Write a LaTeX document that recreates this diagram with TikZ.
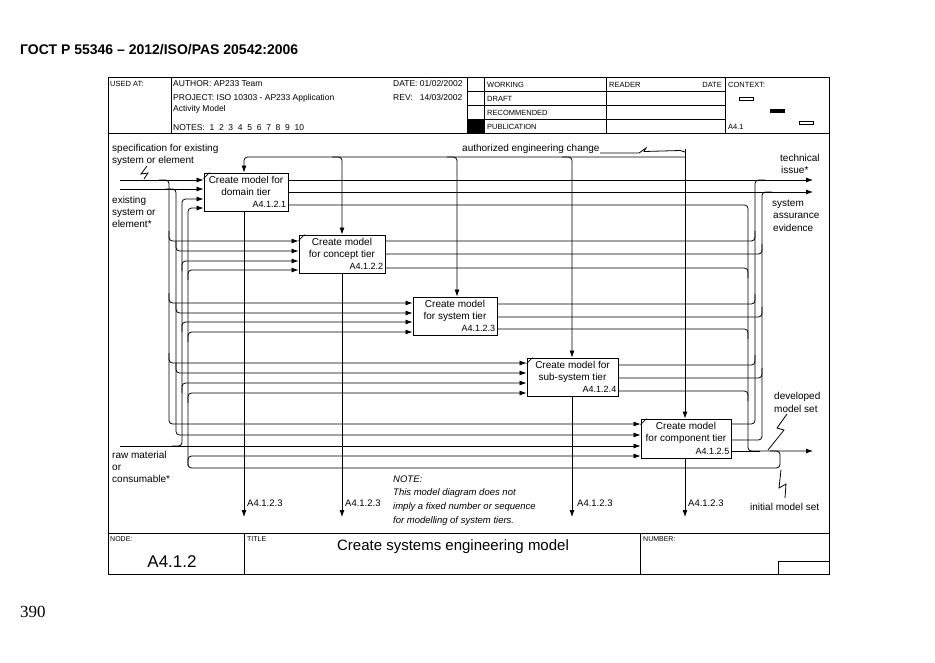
\documentclass[tikz,border=0pt]{standalone}
\usepackage{fontspec}
\setmainfont{Liberation Sans}
\newfontfamily\pagenumfont{Liberation Serif}
\usetikzlibrary{arrows.meta}
\begin{document}
\begin{tikzpicture}[x=1pt,y=-1pt,
  ln/.style={line width=0.8pt, rounded corners=3.5pt},
  arr/.style={ln, -{Latex[length=7pt,width=5pt]}},
  frm/.style={line width=0.9pt},
  box/.style={draw, line width=0.9pt, minimum height=38pt, inner sep=0pt},
  btxt/.style={font=\fontsize{10}{12}\selectfont, inner sep=0pt, anchor=base},
  bid/.style={font=\fontsize{9}{10}\selectfont, inner sep=0pt, anchor=base east},
  lbl/.style={font=\fontsize{10}{12}\selectfont, inner sep=0pt, anchor=base west},
  note/.style={font=\itshape\fontsize{9.5}{11}\selectfont, inner sep=0pt, anchor=base west},
  hdr/.style={font=\fontsize{8.5}{10}\selectfont, inner sep=0pt, anchor=base west},
  hsm/.style={font=\fontsize{7.5}{9}\selectfont, inner sep=0pt, anchor=base west},
  tiny/.style={font=\fontsize{7}{8}\selectfont, inner sep=0pt, anchor=base west},
  sq/.style={line width=0.8pt},
]
\useasboundingbox (0,0) rectangle (935,662);

% page heading and page number
\node[anchor=base west, inner sep=0pt, font=\bfseries\fontsize{14}{16}\selectfont] (head) at (20,54) {ГОСТ Р 55346 – 2012/ISO/PAS 20542:2006};
\node[anchor=base west, inner sep=0pt, font=\pagenumfont\fontsize{17}{19}\selectfont] (pnum) at (20,617) {390};

% outer frame
\draw[frm] (108,77) rectangle (829,574);
\draw[frm] (108,133) -- (829,133);
\draw[frm] (108,533) -- (829,533);
% header
\foreach \x in {171,467,484,606,725} \draw[frm] (\x,77) -- (\x,133);
\foreach \y in {91,105,119} \draw[frm] (467,\y) -- (725,\y);
\fill (467,119) rectangle (484,133);
\node[hsm] (usedat) at (110,86.5) {USED AT:};
\node[hdr] (author) at (173,86.5) {AUTHOR: AP233 Team};
\node[hdr] (project) at (173,100.5) {PROJECT: ISO 10303 - AP233 Application};
\node[hdr] (actmod) at (173,111.5) {Activity Model};
\node[hdr] (notes) at (173,130) {NOTES:\ \ 1\ \ 2\ \ 3\ \ 4\ \ 5\ \ 6\ \ 7\ \ 8\ \ 9\ \ 10};
\node[hdr] (date) at (393,86.5) {DATE: 01/02/2002};
\node[hdr] (rev) at (393,100.5) {REV:\ \ \ 14/03/2002};
\node[hsm] (working) at (487,87.5) {WORKING};
\node[hsm] (draft) at (487,101.5) {DRAFT};
\node[hsm] (recom) at (487,115.5) {RECOMMENDED};
\node[hsm] (public) at (487,129.5) {PUBLICATION};
\node[hsm] (reader) at (609,87.5) {READER};
\node[hsm, anchor=base east] (rdate) at (722,87.5) {DATE};
\node[hsm] (context) at (728,87.5) {CONTEXT:};
\node[hsm] (ctxnode) at (728,129.5) {A4.1};
\draw[line width=0.7pt] (739,97.5) rectangle (753,100.5);
\fill (770,109) rectangle (785,113);
\draw[line width=0.7pt] (799,121) rectangle (813,124);

% footer
\draw[frm] (244,533) -- (244,574);
\draw[frm] (640,533) -- (640,574);
\draw[frm] (778,561) rectangle (829,574);
\node[tiny] (nodelbl) at (110,541.5) {NODE:};
\node[anchor=base, inner sep=0pt, font=\fontsize{17}{19}\selectfont] (nodeid) at (172,567) {A4.1.2};
\node[tiny] (titlelbl) at (247,541.5) {TITLE};
\node[anchor=base, inner sep=0pt, font=\fontsize{15}{17}\selectfont] (title) at (453,550.5) {Create systems engineering model};
\node[tiny] (numlbl) at (643,541.5) {NUMBER:};

% activity boxes
\node[box, minimum width=84pt] (B1) at (246,192) {};
\node[box, minimum width=86pt] (B2) at (342,254) {};
\node[box, minimum width=84pt] (B3) at (455,316) {};
\node[box, minimum width=91pt] (B4) at (572.5,377) {};
\node[box, minimum width=90pt, minimum height=39pt] (B5) at (686,438.5) {};
\foreach \b in {B1,B2,B4,B5} \draw[line width=0.6pt] ([yshift=-6pt]\b.north west) -- ([xshift=6pt]\b.north west);

\node[btxt] (B1a) at ([yshift=-10.5pt]B1.north) {Create model for};
\node[btxt] (B1b) at ([yshift=-22.5pt]B1.north) {domain tier};
\node[bid] (B1c) at ([xshift=-2pt,yshift=-35pt]B1.north east) {A4.1.2.1};
\node[btxt] (B2a) at ([yshift=-10.5pt]B2.north) {Create model};
\node[btxt] (B2b) at ([yshift=-22.5pt]B2.north) {for concept tier};
\node[bid] (B2c) at ([xshift=-2pt,yshift=-35pt]B2.north east) {A4.1.2.2};
\node[btxt] (B3a) at ([yshift=-10.5pt]B3.north) {Create model};
\node[btxt] (B3b) at ([yshift=-22.5pt]B3.north) {for system tier};
\node[bid] (B3c) at ([xshift=-2pt,yshift=-35pt]B3.north east) {A4.1.2.3};
\node[btxt] (B4a) at ([yshift=-10.5pt]B4.north) {Create model for};
\node[btxt] (B4b) at ([yshift=-22.5pt]B4.north) {sub-system tier};
\node[bid] (B4c) at ([xshift=-2pt,yshift=-35pt]B4.north east) {A4.1.2.4};
\node[btxt] (B5a) at ([yshift=-10.5pt]B5.north) {Create model};
\node[btxt] (B5b) at ([yshift=-22.5pt]B5.north) {for component tier};
\node[bid] (B5c) at ([xshift=-2pt,yshift=-35.5pt]B5.north east) {A4.1.2.5};

% external inputs
\draw[arr] (120,180) -- (B1.west |- 0,180);
\draw[arr] (120,189) -- (B1.west |- 0,189);
\draw[arr] (120,446) -- (B5.west |- 0,446);
% left bus: specification
\draw[arr] (159,180) -- (169,180) -- (169,424) -- (B5.west |- 0,424);
\foreach \b/\y in {B2/241,B3/303,B4/363} \draw[arr] (169,\y-10) -- (169,\y) -- (\b.west |- 0,\y);
% left bus: existing system
\draw[arr] (166,189) -- (176,189) -- (176,435) -- (B5.west |- 0,435);
\foreach \b/\y in {B2/251,B3/313,B4/373} \draw[arr] (176,\y-10) -- (176,\y) -- (\b.west |- 0,\y);
% left bus: raw material
\draw[arr] (172,446) -- (182,446) -- (182,199) -- (B1.west |- 0,199);
\foreach \b/\y in {B2/261,B3/322,B4/383} \draw[arr] (182,\y+10) -- (182,\y) -- (\b.west |- 0,\y);
% feedback bus: model set
\draw[arr] (770,451) -- (780,451) -- (780,468) -- (188,468) -- (188,208) -- (B1.west |- 0,208);
\foreach \b/\y in {B2/270,B3/332,B4/393,B5/456} \draw[arr] (188,\y+10) -- (188,\y) -- (\b.west |- 0,\y);

% outputs
\draw[arr] (B1.east |- 0,180) -- (813,180);
\draw[arr] (B1.east |- 0,192) -- (813,192);
\draw[arr] (B1.east |- 0,205) -- (748,205) -- (748,451) -- (813,451);
\draw[ln] (B5.east |- 0,451) -- (760,451);
\draw[ln] (B5.east |- 0,424) -- (755,424) -- (755,180) -- (765,180);
\draw[ln] (B5.east |- 0,440) -- (762,440) -- (762,192) -- (772,192);
\foreach \b/\y in {B2/241,B3/304,B4/365} \draw[ln] (\b.east |- 0,\y) -- (755,\y) -- (755,\y-10);
\foreach \b/\y in {B2/254,B3/317,B4/378} \draw[ln] (\b.east |- 0,\y) -- (762,\y) -- (762,\y-10);
\foreach \b/\y in {B2/268,B3/329,B4/391} \draw[ln] (\b.east |- 0,\y) -- (748,\y) -- (748,\y+10);

% controls
\draw[arr] (685,157) -- (244,157) -- (244,0 |- B1.north);
\draw[arr] (332,157) -- (342,157) -- (342,0 |- B2.north);
\draw[arr] (447,157) -- (457,157) -- (457,0 |- B3.north);
\draw[arr] (562,157) -- (572,157) -- (572,0 |- B4.north);
\draw[arr] (685,149) -- (685,0 |- B5.north);

% mechanisms / calls
\draw[arr] (244,0 |- B1.south) -- (244,517);
\draw[arr] (342,0 |- B2.south) -- (342,517);
\draw[arr] (572,0 |- B4.south) -- (572,517);
\draw[arr] (685,0 |- B5.south) -- (685,517);
\node[lbl, font=\fontsize{9.5}{11}\selectfont] (m1) at (247,506.5) {A4.1.2.3};
\node[lbl, font=\fontsize{9.5}{11}\selectfont] (m2) at (345,506.5) {A4.1.2.3};
\node[lbl, font=\fontsize{9.5}{11}\selectfont] (m4) at (577,506.5) {A4.1.2.3};
\node[lbl, font=\fontsize{9.5}{11}\selectfont] (m5) at (688,506.5) {A4.1.2.3};

% labels
\node[lbl] (spec1) at (112,151.5) {specification for existing};
\node[lbl] (spec2) at (112,163.5) {system or element};
\node[lbl] (ex1) at (112,203.5) {existing};
\node[lbl] (ex2) at (112,215.5) {system or};
\node[lbl] (ex3) at (112,227.5) {element*};
\node[lbl] (raw1) at (112,458.5) {raw material};
\node[lbl] (raw2) at (112,470.5) {or};
\node[lbl] (raw3) at (112,482.5) {consumable*};
\node[lbl] (tech1) at (780,161.5) {technical};
\node[lbl] (tech2) at (781,173.5) {issue*};
\node[lbl] (sae1) at (772,206.5) {system};
\node[lbl] (sae2) at (773,218.5) {assurance};
\node[lbl] (sae3) at (773,231.5) {evidence};
\node[lbl] (dev1) at (774,399.5) {developed};
\node[lbl] (dev2) at (774,412.5) {model set};
\node[lbl] (init) at (750,510.5) {initial model set};
\node[lbl] (aec) at (462,151.5) {authorized engineering change};
\node[note] (n1) at (393,482.5) {NOTE:};
\node[note] (n2) at (393,495.5) {This model diagram does not};
\node[note] (n3) at (393,509.5) {imply a fixed number or sequence};
\node[note] (n4) at (393,523.5) {for modelling of system tiers.};

% squiggles
\draw[sq] (147,166) -- (141,174) -- (148,173) -- (144,179);
\draw[sq] (600,153) -- (639,153) -- (646,148) -- (644,151.5) -- (680,150.5) -- (685,152);
\draw[sq] (787,414) -- (777,428) -- (784,430) -- (768,450);
\draw[sq] (785,498) -- (786,484) -- (779,488) -- (781,470);
\end{tikzpicture}
\end{document}
